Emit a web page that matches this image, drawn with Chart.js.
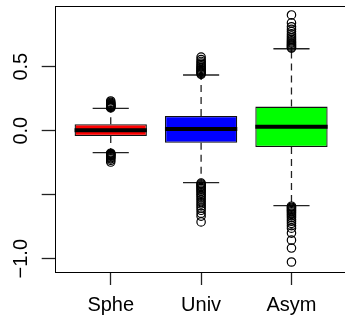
<!DOCTYPE html>
<html>
<head>
<meta charset="utf-8">
<script src="https://cdn.jsdelivr.net/npm/chart.js@4/dist/chart.umd.min.js"></script>
<style>
  html, body { margin: 0; padding: 0; background: #fff; overflow: hidden; }
  #wrap { width: 345px; height: 328px; overflow: hidden; position: relative; }
  canvas { position: absolute; left: 0; top: 0; }
</style>
</head>
<body>
<div id="wrap"><canvas id="c" width="360" height="328"></canvas></div>
<script>
// Box summaries per group
const categories = ['Sphe', 'Univ', 'Asym'];
const boxColors = ['#ff0000', '#0000ff', '#00ff00'];
const q1 = [-0.041, -0.094, -0.127];
const median = [0.003, 0.013, 0.031];
const q3 = [0.050, 0.115, 0.188];
const whiskerLow = [-0.172, -0.406, -0.586];
const whiskerHigh = [0.175, 0.435, 0.640];

// Points beyond the whiskers
const outliersSphe = [0.178, 0.182, 0.186, 0.190, 0.194, 0.198, 0.203, 0.208, 0.214, 0.221, 0.232,
  -0.176, -0.180, -0.184, -0.189, -0.194, -0.199, -0.205, -0.212, -0.220, -0.231, -0.245];
const outliersUniv = [0.440, 0.448, 0.455, 0.462, 0.470, 0.478, 0.486, 0.495, 0.505, 0.516, 0.528, 0.541, 0.556, 0.575,
  -0.410, -0.418, -0.426, -0.435, -0.444, -0.453, -0.463, -0.474, -0.486, -0.498, -0.511, -0.525, -0.540,
  -0.556, -0.572, -0.588, -0.605, -0.622, -0.645, -0.668, -0.713];
const outliersAsym = [0.645, 0.652, 0.660, 0.668, 0.676, 0.684, 0.693, 0.703, 0.714, 0.726, 0.740, 0.756, 0.774,
  0.792, 0.812, 0.842, 0.904,
  -0.590, -0.598, -0.606, -0.615, -0.624, -0.633, -0.643, -0.654, -0.666, -0.679, -0.693, -0.708, -0.724,
  -0.742, -0.762, -0.800, -0.855, -0.917, -1.026];
const outlierSets = [outliersSphe, outliersUniv, outliersAsym];

// Value axis ticks; the -0.5 tick carries no label
const yTicks = [-1.0, -0.5, 0.0, 0.5];
const yTickLabels = ['\u22121.0', '', '0.0', '0.5'];

const FONT = "'Liberation Sans', Arial, Helvetica, sans-serif";
const boxWidth = 0.8;   // in group units
const capHalf = boxWidth / 4;

// Build segment lists (null entries break the line between groups)
const pos = categories.map((_, i) => i + 1);
const medianPts = [], whiskerPts = [], capPts = [], outlierPts = [];
pos.forEach((x, i) => {
  medianPts.push({x: x - boxWidth / 2, y: median[i]}, {x: x + boxWidth / 2, y: median[i]}, {x: x, y: null});
  whiskerPts.push({x: x, y: q3[i]}, {x: x, y: whiskerHigh[i]}, {x: x, y: null});
  whiskerPts.push({x: x, y: q1[i]}, {x: x, y: whiskerLow[i]}, {x: x, y: null});
  capPts.push({x: x - capHalf, y: whiskerHigh[i]}, {x: x + capHalf, y: whiskerHigh[i]}, {x: x, y: null});
  capPts.push({x: x - capHalf, y: whiskerLow[i]}, {x: x + capHalf, y: whiskerLow[i]}, {x: x, y: null});
  outlierSets[i].forEach(v => outlierPts.push({x: x, y: v}));
});

// Closed frame around the plotting region plus rotated value labels
const framePlugin = {
  id: 'frame',
  afterDraw(chart) {
    const {ctx, chartArea: a, scales: {y}} = chart;
    ctx.save();
    ctx.strokeStyle = '#000';
    ctx.lineWidth = 1;
    ctx.strokeRect(Math.round(a.left) + 0.5, Math.round(a.top) + 0.5,
      Math.round(a.right - a.left), Math.round(a.bottom - a.top));
    ctx.fillStyle = '#000';
    ctx.font = '20px ' + FONT;
    ctx.textAlign = 'center';
    ctx.textBaseline = 'alphabetic';
    yTicks.forEach((v, i) => {
      if (!yTickLabels[i]) return;
      const py = y.getPixelForValue(v);
      ctx.save();
      ctx.translate(27, py);
      ctx.rotate(-Math.PI / 2);
      ctx.fillText(yTickLabels[i], 0, 0);
      ctx.restore();
    });
    ctx.restore();
  }
};

new Chart(document.getElementById('c'), {
  type: 'bar',
  data: {
    datasets: [
      {
        type: 'line', data: medianPts, order: 0,
        borderColor: '#000', borderWidth: 4, pointRadius: 0, spanGaps: false, borderCapStyle: 'butt'
      },
      {
        type: 'bar', order: 1,
        data: pos.map((x, i) => ({x: x, y: [q1[i], q3[i]]})),
        backgroundColor: boxColors, borderColor: '#111', borderWidth: 1.3, borderSkipped: false,
        barPercentage: boxWidth, categoryPercentage: 1.0
      },
      {
        type: 'scatter', data: outlierPts, order: 2,
        pointStyle: 'circle', pointRadius: 4.2, pointBorderWidth: 1.2,
        pointBackgroundColor: 'rgba(0,0,0,0)', pointBorderColor: '#000', showLine: false
      },
      {
        type: 'line', data: capPts, order: 3,
        borderColor: '#222', borderWidth: 1.3, pointRadius: 0, spanGaps: false
      },
      {
        type: 'line', data: whiskerPts, order: 4,
        borderColor: '#222', borderWidth: 1.3, borderDash: [7, 5], pointRadius: 0, spanGaps: false
      }
    ]
  },
  options: {
    responsive: false,
    animation: false,
    events: [],
    layout: { padding: { left: 0, top: 6, right: 12.5, bottom: 0 } },
    plugins: { legend: { display: false }, tooltip: { enabled: false } },
    scales: {
      x: {
        type: 'linear', position: 'bottom', min: 0.38, max: 3.62, offset: false,
        afterBuildTicks: s => { s.ticks = pos.map(v => ({value: v})); },
        afterFit: s => { s.height = 56; s.paddingLeft = 0; s.paddingRight = 0; },
        ticks: {
          autoSkip: false, maxRotation: 0, minRotation: 0, padding: 8,
          color: '#000', font: { size: 20, family: FONT },
          callback: v => categories[v - 1]
        },
        grid: { display: true, offset: false, drawOnChartArea: false, drawTicks: true, tickLength: 13, tickColor: '#222', tickWidth: 1.3 },
        border: { display: false }
      },
      y: {
        type: 'linear', min: -1.104, max: 0.974,
        afterBuildTicks: s => { s.ticks = yTicks.map(v => ({value: v})); },
        afterFit: s => { s.width = 54.7; s.paddingTop = 0; s.paddingBottom = 0; },
        ticks: { display: false },
        grid: { display: true, drawOnChartArea: false, drawTicks: true, tickLength: 13, tickColor: '#222', tickWidth: 1.3 },
        border: { display: false }
      }
    }
  },
  plugins: [framePlugin]
});
</script>
</body>
</html>
